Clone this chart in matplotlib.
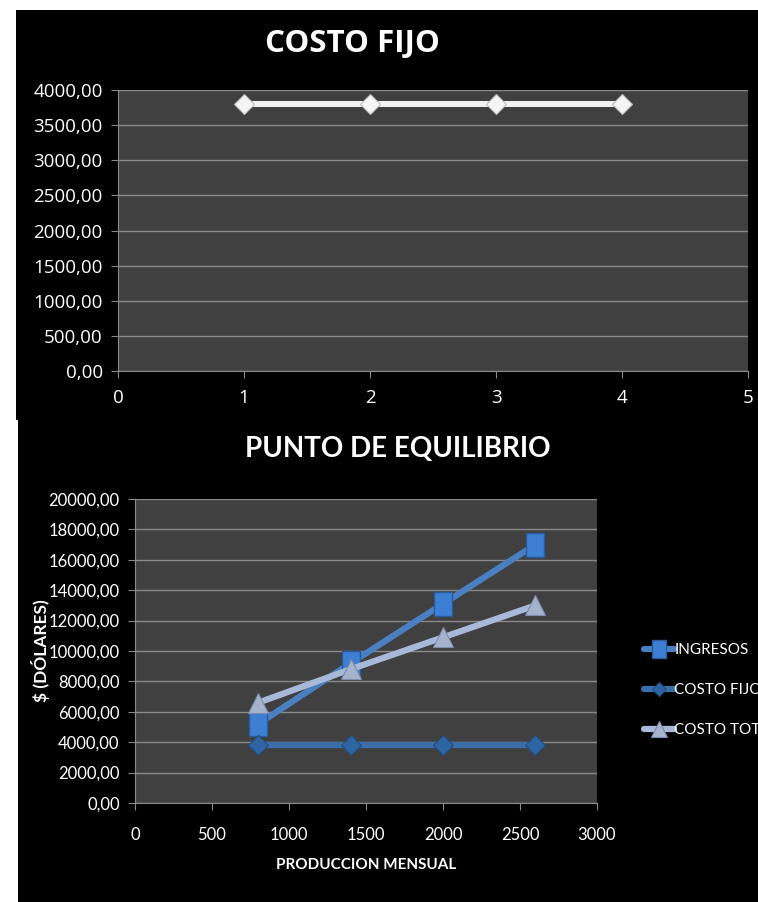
import matplotlib
matplotlib.use("Agg")
import matplotlib.pyplot as plt
from matplotlib.patches import Rectangle
from matplotlib.ticker import FuncFormatter, MultipleLocator

# ---- data ----
top_x = [1, 2, 3, 4]
top_costo_fijo = [3800, 3800, 3800, 3800]

produccion = [800, 1400, 2000, 2600]
ingresos = [5200, 9200, 13100, 17000]
costo_fijo = [3800, 3800, 3800, 3800]
costo_total = [6600, 8800, 10900, 13000]

series_labels = ["INGRESOS", "COSTO FIJO", "COSTO TOTAL"]

W, H = 758, 902
fig = plt.figure(figsize=(W / 100, H / 100), dpi=100, facecolor="white")

def fx(px):
    return px / W

def fy(py):
    return 1 - py / H

# black panels
fig.patches.append(Rectangle((fx(16), fy(420)), fx(758) - fx(16), fy(10) - fy(420),
                             transform=fig.transFigure, facecolor="black", edgecolor="none", zorder=-10))
fig.patches.append(Rectangle((fx(18), 0), 1 - fx(18), fy(420),
                             transform=fig.transFigure, facecolor="black", edgecolor="none", zorder=-10))

fmt = FuncFormatter(lambda v, p: f"{v:.2f}".replace(".", ","))
grid_c = "#8a8a8a"
bg_c = "#404040"

top_font = "Open Sans"
bot_font = "Lato"

# ---- top chart ----
ax1 = fig.add_axes([fx(118), fy(371), fx(748) - fx(118), fy(90) - fy(371)])
ax1.set_facecolor(bg_c)
ax1.plot(top_x, top_costo_fijo, color="#f2f2f2", lw=4.3, marker="D", markersize=10.5,
         markerfacecolor="#f4f4f4", markeredgecolor="#bdbdbd", markeredgewidth=0.8, zorder=3)
ax1.set_xlim(0, 5)
ax1.set_ylim(0, 4000)
ax1.yaxis.set_major_locator(MultipleLocator(500))
ax1.xaxis.set_major_locator(MultipleLocator(1))
ax1.yaxis.set_major_formatter(fmt)
ax1.grid(axis="y", color=grid_c, lw=1)
ax1.set_axisbelow(True)
for s in ["top", "right"]:
    ax1.spines[s].set_visible(False)
for s in ["left", "bottom"]:
    ax1.spines[s].set_color(grid_c)
ax1.tick_params(colors=grid_c, length=5, direction="out", labelcolor="white", labelsize=13.5)
ax1.tick_params(axis="x", pad=8)
ax1.tick_params(axis="y", pad=6)
for lab in ax1.get_xticklabels() + ax1.get_yticklabels():
    lab.set_fontfamily(top_font)
fig.text(fx(352), fy(44), "COSTO FIJO", ha="center", va="center", color="white",
         fontsize=22.5, fontweight="bold", family=top_font)

# ---- bottom chart ----
ax2 = fig.add_axes([fx(135), fy(803), fx(597) - fx(135), fy(499) - fy(803)])
ax2.set_facecolor(bg_c)
rect_marker = [(-0.4, -0.5), (0.4, -0.5), (0.4, 0.5), (-0.4, 0.5), (-0.4, -0.5)]
l1, = ax2.plot(produccion, ingresos, color="#4a7fc1", lw=4.5, marker=rect_marker, markersize=17,
               markerfacecolor="#3d7fd3", markeredgecolor="#2a5a98", markeredgewidth=1, zorder=3,
               solid_capstyle="round")
l2, = ax2.plot(produccion, costo_fijo, color="#3c6ea8", lw=4.5, marker="D", markersize=10,
               markerfacecolor="#2f64a3", markeredgecolor="#234d80", markeredgewidth=0.8, zorder=3,
               solid_capstyle="round")
l3, = ax2.plot(produccion, costo_total, color="#a8b8d8", lw=4.5, marker="^", markersize=15,
               markerfacecolor="#a5b3cc", markeredgecolor="#7d8dab", markeredgewidth=0.8, zorder=4,
               solid_capstyle="round")
ax2.set_xlim(0, 3000)
ax2.set_ylim(0, 20000)
ax2.yaxis.set_major_locator(MultipleLocator(2000))
ax2.xaxis.set_major_locator(MultipleLocator(500))
ax2.yaxis.set_major_formatter(fmt)
ax2.grid(axis="y", color=grid_c, lw=1)
ax2.set_axisbelow(True)
for s in ["top", "right"]:
    ax2.spines[s].set_visible(False)
for s in ["left", "bottom"]:
    ax2.spines[s].set_color(grid_c)
ax2.tick_params(colors=grid_c, length=5, direction="out", labelcolor="white", labelsize=12)
ax2.tick_params(axis="x", pad=12)
ax2.tick_params(axis="y", pad=6)
for lab in ax2.get_xticklabels() + ax2.get_yticklabels():
    lab.set_fontfamily(bot_font)
ax2.set_xlabel("PRODUCCION MENSUAL", color="white", fontsize=11, fontweight="bold",
               family=bot_font)
ax2.xaxis.set_label_coords(0.5, (803 - 865) / 304, transform=ax2.transAxes)
ax2.xaxis.label.set_va("center")
ax2.set_ylabel("$ (DÓLARES)", color="white", fontsize=12.5, fontweight="bold",
               family=bot_font)
ax2.yaxis.set_label_coords((40 - 135) / 462, 0.5, transform=ax2.transAxes)
ax2.yaxis.label.set_va("center")
fig.text(fx(398), fy(449), "PUNTO DE EQUILIBRIO", ha="center", va="center", color="white",
         fontsize=20, fontweight="bold", family=bot_font)

leg = fig.legend([l1, l2, l3], series_labels, loc="center left",
                 bbox_to_anchor=(fx(630), fy(690)), frameon=False, labelcolor="white",
                 prop={"family": bot_font, "size": 11}, handlelength=2.0, handletextpad=0.0,
                 labelspacing=1.7, markerscale=0.75)

fig.savefig("out.png", dpi=100, facecolor="white")
